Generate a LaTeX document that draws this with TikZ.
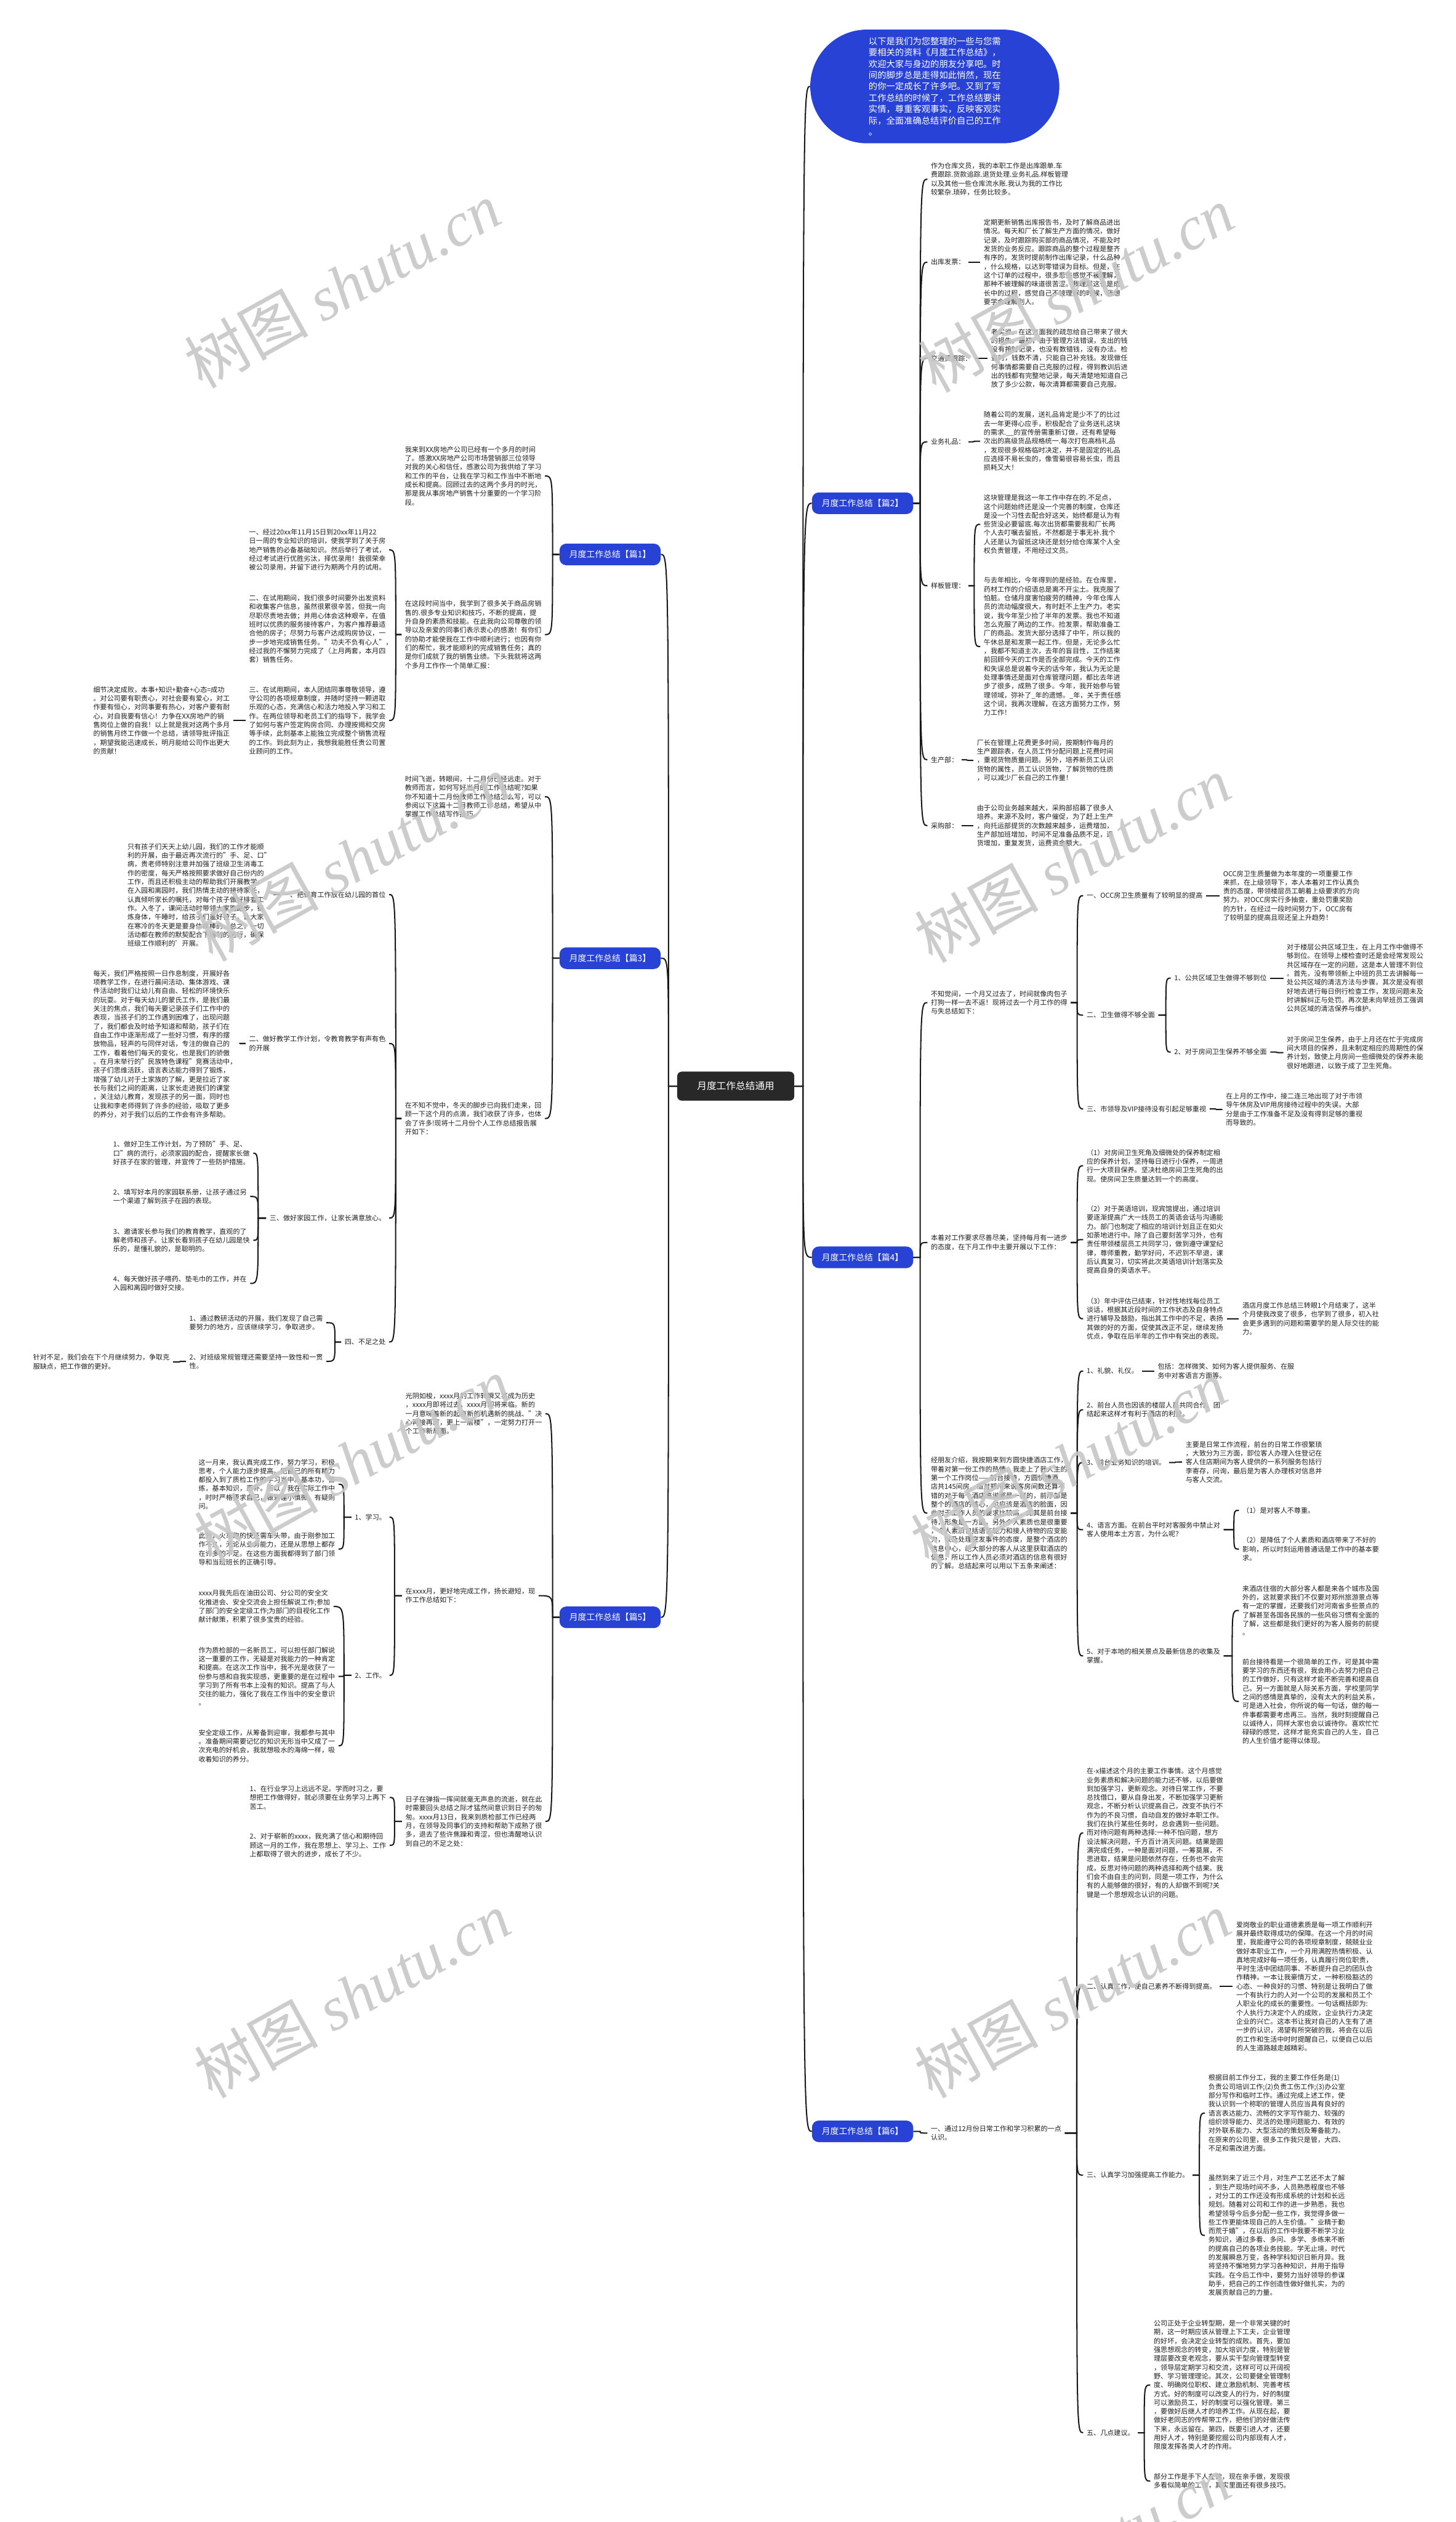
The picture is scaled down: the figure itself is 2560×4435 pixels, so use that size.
\documentclass[tikz,border=0pt]{standalone}
\usepackage{fontspec}
\setmainfont{Noto Sans CJK SC}
\newfontfamily\wmserif{Liberation Serif}
\definecolor{mmblue}{RGB}{40,66,214}
\definecolor{mmdark}{RGB}{40,40,40}
\definecolor{mmline}{RGB}{25,25,25}
\definecolor{mmtext}{RGB}{30,30,30}
\newcommand\mmR[3]{\path (#1.east) ++(#2,0) coordinate (mmj);\draw[ln] (#1.east) -- (mmj) .. controls (mmj |- #3.west) .. (#3.west);}
\newcommand\mmL[3]{\path (#1.west) ++(-#2,0) coordinate (mmj);\draw[ln] (#1.west) -- (mmj) .. controls (mmj |- #3.east) .. (#3.east);}
\tikzset{
 ln/.style={draw=mmline, line width=2.2pt},
 txt/.style={font=\fontsize{12}{15.5}\selectfont, text=mmtext, align=left, inner xsep=6pt, inner ysep=2pt, anchor=west},
 rootbox/.style={fill=mmdark, rounded corners=8pt, minimum width=206pt, minimum height=51pt, text=white, font=\fontsize{17}{17}\selectfont},
 pian/.style={fill=mmblue, rounded corners=12pt, minimum width=178pt, minimum height=38pt, text=white, font=\fontsize{15}{15}\selectfont, inner sep=0pt},
 bubble/.style={fill=mmblue, rounded corners=100pt, minimum width=438pt, minimum height=200pt, text=white, align=left, font=\fontsize{15.5}{20}\selectfont},
 wm/.style={font=\fontsize{109}{109}\selectfont, text=black!22, opacity=0.9, rotate=29, anchor=south west, inner sep=0pt},
}
\begin{document}
\begin{tikzpicture}[x=1pt,y=-1pt]
\useasboundingbox[fill=white] (0,0) rectangle (2560,4435);
% ---------- main nodes
\node[rootbox] (root) at (1294,1910) {月度工作总结通用};
\node[bubble] (intro) at (1644,152) {以下是我们为您整理的一些与您需\\要相关的资料《月度工作总结》，\\欢迎大家与身边的朋友分享吧。时\\间的脚步总是走得如此悄然，现在\\的你一定成长了许多吧。又到了写\\工作总结的时候了，工作总结要讲\\实情，尊重客观事实，反映客观实\\际，全面准确总结评价自己的工作\\。};
\node[pian] (p2) at (1517,885) {月度工作总结【篇2】};
\node[pian] (p4) at (1517,2211) {月度工作总结【篇4】};
\node[pian] (p6) at (1517,3748) {月度工作总结【篇6】};
\node[pian] (p1) at (1073,975) {月度工作总结【篇1】};
\node[pian] (p3) at (1073,1685) {月度工作总结【篇3】};
\node[pian] (p5) at (1073,2844) {月度工作总结【篇5】};
\mmR{root}{15}{intro}\mmR{root}{15}{p2}\mmR{root}{15}{p4}\mmR{root}{15}{p6}
\mmL{root}{15}{p1}\mmL{root}{15}{p3}\mmL{root}{15}{p5}
% ---------- 篇2
\node[txt] (b2a) at (1631,315) {作为仓库文员，我的本职工作是出库跟单.车\\费跟踪.货款追踪.退货处理.业务礼品.样板管理\\以及其他一些仓库流水账.我认为我的工作比\\较繁杂.琐碎，任务比较多。};
\node[txt] (b2bl) at (1631,461) {出库发票：};
\node[txt] (b2b) at (1724,461) {定期更新销售出库报告书，及时了解商品进出\\情况。每天和厂长了解生产方面的情况，做好\\记录，及时跟踪购买部的商品情况，不能及时\\发货的业务反应。跟踪商品的整个过程是整齐\\有序的，发货时提前制作出库记录，什么品种\\，什么规格，以达到零错误为目标。但是，在\\这个订单的过程中，很多悲伤感觉不被理解，\\那种不被理解的味道很苦涩。我理解这也是成\\长中的过程，感觉自己不被理解的时候，我想\\要学会理解别人。};
\node[txt] (b2cl) at (1631,630) {交通费跟踪：};
\node[txt] (b2c) at (1737,630) {老实说，在这方面我的疏忽给自己带来了很大\\的损失。最初，由于管理方法错误，支出的钱\\没有按时记录，也没有数错钱，没有办法。检\\查时，钱数不清，只能自己补充钱。发现做任\\何事情都需要自己克服的过程，得到教训后进\\出的钱都有完整地记录，每天清楚地知道自己\\放了多少公款，每次清算都需要自己克服。};
\node[txt] (b2dl) at (1631,777) {业务礼品：};
\node[txt] (b2d) at (1724,776) {随着公司的发展，送礼品肯定是少不了的比过\\去一年更得心应手，积极配合了业务送礼这块\\的需求.\_\_的宣传册需重新订做，还有希望每\\次出的高级货品规格统一.每次打包高档礼品\\，发现很多规格临时决定，并不是固定的礼品\\应选择不易长虫的，像雪菊很容易长虫，而且\\损耗又大！};
\node[txt] (b2el) at (1631,1030) {样板管理：};
\node[txt] (b2e1) at (1724,922) {这块管理是我这一年工作中存在的.不足点，\\这个问题始终还是没一个完善的制度，仓库还\\是没一个习性去配合好这关，始终都是认为有\\些货没必要留底.每次出货都需要我和厂长两\\个人去叮嘱去留抵，不然都是于事无补.我个\\人还是认为留抵这块还是划分给仓库某个人全\\权负责管理，不用经过文员。};
\node[txt] (b2e2) at (1724,1137) {与去年相比，今年得到的是经验。在仓库里，\\药材工作的介绍语总是离不开尘土。我克服了\\怕脏。仓储月度害怕疲劳的精神，今年仓库人\\员的流动幅度很大，有时赶不上生产力。老实\\说，我今年至少捡了半年的发票。我也不知道\\怎么克服了两边的工作。捡发票，帮助准备工\\厂的商品。发货大部分选择了中午，所以我的\\午休总是和发票一起工作。但是，无论多么忙\\，我都不知道主次，去年的盲目性，工作结束\\前回顾今天的工作是否全部完成。今天的工作\\和失误总是说着今天的话今年，我认为无论是\\处理事情还是面对仓库管理问题，都比去年进\\步了很多，成熟了很多。今年，我开始参与管\\理领域，弥补了\_年的遗憾。\_年，关于责任感\\这个词，我再次理解，在这方面努力工作，努\\力工作！};
\node[txt] (b2fl) at (1631,1336) {生产部：};
\node[txt] (b2f) at (1712,1337) {厂长在管理上花费更多时间，按期制作每月的\\生产跟踪表，在人员工作分配问题上花费时间\\，重视货物质量问题。另外，培养新员工认识\\货物的属性，员工认识货物，了解货物的性质\\，可以减少厂长自己的工作量！};
\node[txt] (b2gl) at (1631,1452) {采购部：};
\node[txt] (b2g) at (1712,1452) {由于公司业务越来越大，采购部招募了很多人\\培养。来源不及时，客户催促，为了赶上生产\\，向托运部提货的次数越来越多，运费增加，\\生产部加班增加，时间不足准备品质不足，退\\货增加，重复发货，运费资金额大。};
\mmR{p2}{12}{b2a}\mmR{p2}{12}{b2bl}\mmR{p2}{12}{b2cl}\mmR{p2}{12}{b2dl}\mmR{p2}{12}{b2el}\mmR{p2}{12}{b2fl}\mmR{p2}{12}{b2gl}
\mmR{b2bl}{8}{b2b}\mmR{b2cl}{8}{b2c}\mmR{b2dl}{8}{b2d}\mmR{b2el}{10}{b2e1}\mmR{b2el}{10}{b2e2}\mmR{b2fl}{8}{b2f}\mmR{b2gl}{8}{b2g}
% ---------- 篇1
\node[txt] (a1) at (706,837) {我来到XX房地产公司已经有一个多月的时间\\了。感激XX房地产公司市场营销部三位领导\\对我的关心和信任，感激公司为我供给了学习\\和工作的平台，让我在学习和工作当中不断地\\成长和提高。回顾过去的这两个多月的时光，\\那是我从事房地产销售十分重要的一个学习阶\\段。};
\node[txt] (a2) at (706,1116) {在这段时间当中，我学到了很多关于商品房销\\售的.很多专业知识和技巧，不断的提高，提\\升自身的素质和技能。在此我向公司尊敬的领\\导以及亲爱的同事们表示衷心的感激！有你们\\的协助才能使我在工作中顺利进行；也因有你\\们的帮忙，我才能顺利的完成销售任务；真的\\是你们成就了我的销售业绩。下头我就将这两\\个多月工作作一个简单汇报：};
\node[txt] (a21) at (432,967) {一、经过20xx年11月15日到20xx年11月22\\日一周的专业知识的培训，使我学到了关于房\\地产销售的必备基础知识。然后举行了考试，\\经过考试进行优胜劣汰，择优录用！我很荣幸\\被公司录用，并留下进行为期两个月的试用。};
\node[txt] (a22) at (432,1106) {二、在试用期间，我们很多时间要外出发资料\\和收集客户信息，虽然很累很辛苦，但我一向\\尽职尽责地去做；并用心体会这种艰辛，在值\\班时以优质的服务接待客户，为客户推荐最适\\合他的房子；尽努力与客户达成购房协议，一\\步一步地完成销售任务。"功夫不负有心人"，\\经过我的不懈努力完成了（上月两套，本月四\\套）销售任务。};
\node[txt] (a23) at (432,1267) {三、在试用期间，本人团结同事尊敬领导，遵\\守公司的各项规章制度，并随时坚持一颗进取\\乐观的心态，充满信心和活力地投入学习和工\\作。在两位领导和老员工们的指导下，我学会\\了如何与客户签定购房合同、办理按揭和交房\\等手续，此刻基本上能独立完成整个销售流程\\的工作。到此刻为止，我想我能胜任贵公司置\\业顾问的工作。};
\node[txt] (a24) at (158,1267) {细节决定成败，本事+知识+勤奋+心态=成功\\。对公司要有职责心，对社会要有爱心，对工\\作要有恒心，对同事要有热心，对客户要有耐\\心，对自我要有信心！力争在XX房地产的销\\售岗位上做的自我！以上就是我对这两个多月\\的销售月终工作做一个总结，请领导批评指正\\，期望我能迅速成长，明月能给公司作出更大\\的贡献！};
\mmL{p1}{12}{a1}\mmL{p1}{12}{a2}
\mmL{a2}{10}{a21}\mmL{a2}{10}{a22}\mmL{a2}{10}{a23}\mmL{a23}{10}{a24}
% ---------- 篇3
\node[txt] (c1) at (706,1401) {时间飞逝，转眼间，十二月份已经远走。对于\\教师而言，如何写好当月的工作总结呢?如果\\你不知道十二月份教师工作总结怎么写，可以\\参阅以下这篇十二月教师工作总结，希望从中\\掌握工作总结写作技巧。};
\node[txt] (c2) at (706,1967) {在不知不觉中，冬天的脚步已向我们走来，回\\顾一下这个月的点滴，我们收获了许多，也体\\会了许多!现将十二月份个人工作总结报告展\\开如下：};
\node[txt] (c21) at (492,1573) {一、把保育工作放在幼儿园的首位};
\node[txt] (c21t) at (218,1574) {只有孩子们天天上幼儿园，我们的工作才能顺\\利的开展，由于最近再次流行的"手、足、口"\\病，贵老师特别注意并加强了班级卫生消毒工\\作的密度，每天严格按照要求做好自己份内的\\工作，而且还积极主动的帮助我们开展教学。\\在入园和离园时，我们热情主动的接待家长，\\认真倾听家长的嘱托，对每个孩子做好排查工\\作。入冬了，课间活动时带领大家跑跑步，锻\\炼身体，午睡时，给孩子们盖好被子，让大家\\在寒冷的冬天更是要身体棒棒的，总之，一切\\活动都在教师的默契配合下顺利的进行，确保\\班级工作顺利的'开展。};
\node[txt] (c22) at (432,1835) {二、做好教学工作计划，令教育教学有声有色\\的开展};
\node[txt] (c22t) at (158,1836) {每天，我们严格按照一日作息制度，开展好各\\项教学工作，在进行晨间活动、集体游戏、课\\件活动时我们让幼儿有自由、轻松的环境快乐\\的玩耍。对于每天幼儿的蒙氏工作，是我们最\\关注的焦点，我们每天要记录孩子们工作中的\\表现，当孩子们的工作遇到困难了，出现问题\\了，我们都会及时给予知道和帮助，孩子们在\\自由工作中逐渐形成了一些好习惯，有序的摆\\放物品，轻声的与同伴对话，专注的做自己的\\工作，看着他们每天的变化，也是我们的骄傲\\。在月末举行的"民族特色课程"竞赛活动中，\\孩子们思维活跃，语言表达能力得到了锻炼，\\增强了幼儿对于土家族的了解，更是拉近了家\\长与我们之间的距离，让家长走进我们的课堂\\，关注幼儿教育，发现孩子的另一面，同时也\\让我和李老师得到了许多的经验，吸取了更多\\的养分，对于我们以后的工作会有许多帮助。};
\node[txt] (c23) at (468,2142) {三、做好家园工作，让家长满意放心。};
\node[txt] (c231) at (193,2028) {1、做好卫生工作计划，为了预防"手、足、\\口"病的流行，必须家园的配合，提醒家长做\\好孩子在家的管理，并宣传了一些防护措施。};
\node[txt] (c232) at (193,2104) {2、填写好本月的家园联系册，让孩子通过另\\一个渠道了解到孩子在园的表现。};
\node[txt] (c233) at (193,2181) {3、邀请家长参与我们的教育教学，直观的了\\解老师和孩子。让家长看到孩子在幼儿园是快\\乐的，是懂礼貌的，是聪明的。};
\node[txt] (c234) at (193,2257) {4、每天做好孩子喂药、垫毛巾的工作，并在\\入园和离园时做好交接。};
\node[txt] (c24) at (600,2360) {四、不足之处};
\node[txt] (c241) at (327,2326) {1、通过教研活动的开展，我们发现了自己需\\要努力的地方，应该继续学习，争取进步。};
\node[txt] (c242) at (327,2394) {2、对班级常规管理还需要坚持一致性和一贯\\性。};
\node[txt] (c243) at (52,2395) {针对不足，我们会在下个月继续努力，争取克\\服缺点，把工作做的更好。};
\mmL{p3}{12}{c1}\mmL{p3}{12}{c2}
\mmL{c2}{10}{c21}\mmL{c2}{10}{c22}\mmL{c2}{10}{c23}\mmL{c2}{10}{c24}
\mmL{c21}{10}{c21t}\mmL{c22}{10}{c22t}
\mmL{c23}{14}{c231}\mmL{c23}{14}{c232}\mmL{c23}{14}{c233}\mmL{c23}{14}{c234}
\mmL{c24}{11}{c241}\mmL{c24}{11}{c242}\mmL{c242}{10}{c243}
% ---------- 篇5
\node[txt] (e1) at (707,2486) {光阴如梭，xxxx月的工作转瞬又将成为历史\\，xxxx月即将过去，xxxx月即将来临。新的\\一月意味着新的起点新的机遇新的挑战、"决\\心再接再厉，更上一层楼"，一定努力打开一\\个工作新局面。};
\node[txt] (e2) at (707,2806) {在xxxx月，更好地完成工作，扬长避短，现\\作工作总结如下：};
\node[txt] (e3) at (707,3203) {日子在弹指一挥间就毫无声息的流逝，就在此\\时需要回头总结之际才猛然间意识到日子的匆\\匆。xxxx月13日，我来到质检部工作已经两\\月，在领导及同事们的支持和帮助下成熟了很\\多，退去了些许焦躁和青涩，但也清醒地认识\\到自己的不足之处：};
\node[txt] (e21) at (618,2668) {1、学习。};
\node[txt] (e22) at (618,2946) {2、工作。};
\node[txt] (e211) at (343,2610) {这一月来，我认真完成工作，努力学习，积极\\思考，个人能力逐步提高。把自己的所有精力\\都投入到了质检工作的学习当中。基本功，苦\\练，基本知识，恶补。所以，我在实际工作中\\，时时严格要求自己，做到谨小慎微，有疑则\\问。};
\node[txt] (e212) at (343,2724) {此外，火车跑的快还需车头带，由于刚参加工\\作不久，无论从业务能力，还是从思想上都存\\在许多的不足。在这些方面我都得到了部门领\\导和当班班长的正确引导。};
\node[txt] (e221) at (343,2825) {xxxx月我先后在油田公司、分公司的安全文\\化推进会、安全交流会上担任解说工作;参加\\了部门的安全定级工作;为部门的目视化工作\\献计献策，积累了很多宝贵的经验。};
\node[txt] (e222) at (343,2948) {作为质检部的一名新员工，可以担任部门解说\\这一重要的工作，无疑是对我能力的一种肯定\\和提高。在这次工作当中，我不光是收获了一\\份参与感和自我实现感，更重要的是在过程中\\学习到了所有书本上没有的知识。提高了与人\\交往的能力，强化了我在工作当中的安全意识\\。};
\node[txt] (e223) at (343,3070) {安全定级工作，从筹备到迎审，我都参与其中\\。准备期间需要记忆的知识无形当中又成了一\\次充电的好机会，我就想吸水的海绵一样，吸\\收着知识的养分。};
\node[txt] (e31) at (433,3161) {1、在行业学习上远远不足。学而时习之，要\\想把工作做得好，就必须要在业务学习上再下\\苦工。};
\node[txt] (e32) at (433,3245) {2、对于崭新的xxxx，我充满了信心和期待回\\顾这一月的工作，我在思想上、学习上、工作\\上都取得了很大的进步，成长了不少。};
\mmL{p5}{12}{e1}\mmL{p5}{12}{e2}\mmL{p5}{12}{e3}
\mmL{e2}{13}{e21}\mmL{e2}{13}{e22}
\mmL{e21}{13}{e211}\mmL{e21}{13}{e212}
\mmL{e22}{13}{e221}\mmL{e22}{13}{e222}\mmL{e22}{13}{e223}
\mmL{e3}{13}{e31}\mmL{e3}{13}{e32}
% ---------- 篇4
\node[txt] (d1) at (1631,1763) {不知觉间，一个月又过去了，时间就像肉包子\\打狗一样一去不返！现将过去一个月工作的得\\与失总结如下：};
\node[txt] (d11) at (1905,1575) {一、OCC房卫生质量有了较明显的提高};
\node[txt] (d11t) at (2145,1575) {OCC房卫生质量做为本年度的一项重要工作\\来抓，在上级领导下，本人本着对工作认真负\\责的态度，带领楼层员工朝着上级要求的方向\\努力。对OCC房实行多抽查，重处罚重奖励\\的方针，在经过一段时间努力下，OCC房有\\了较明显的提高且现还呈上升趋势！};
\node[txt] (d12) at (1905,1785) {二、卫生做得不够全面};
\node[txt] (d121) at (2059,1720) {1、公共区域卫生做得不够到位};
\node[txt] (d121t) at (2257,1720) {对于楼层公共区域卫生，在上月工作中做得不\\够到位。在领导上楼检查时还是会经常发现公\\共区域存在一定的问题，这是本人管理不到位\\。首先，没有带领新上中班的员工去讲解每一\\处公共区域的清洁方法与步骤。其次是没有很\\好地去进行每日例行检查工作，发现问题未及\\时讲解纠正与处罚。再次是未向早班员工强调\\公共区域的清洁保养与维护。};
\node[txt] (d122) at (2059,1850) {2、对于房间卫生保养不够全面};
\node[txt] (d122t) at (2257,1851) {对于房间卫生保养，由于上月还在忙于完成房\\间大项目的保养，且未制定相应的周期性的保\\养计划，致使上月房间一些细微处的保养未能\\很好地跟进，以致于成了卫生死角。};
\node[txt] (d13) at (1905,1950) {三、市领导及VIP接待没有引起足够重视};
\node[txt] (d13t) at (2150,1951) {在上月的工作中，接二连三地出现了对于市领\\导午休房及VIP用房接待过程中的失误。大部\\分是由于工作准备不足及没有得到足够的重视\\而导致的。};
\node[txt] (d2) at (1631,2185) {本着对工作要求尽善尽美，坚持每月有一进步\\的态度，在下月工作中主要开展以下工作：};
\node[txt] (d21) at (1905,2050) {（1）对房间卫生死角及细微处的保养制定相\\应的保养计划，坚持每日进行小保养，一周进\\行一大项目保养。坚决杜绝房间卫生死角的出\\现。使房间卫生质量达到一个的高度。};
\node[txt] (d22) at (1905,2180) {（2）对于英语培训，现宾馆提出，通过培训\\要逐渐提高广大一线员工的英语会话与沟通能\\力。部门也制定了相应的培训计划且正在如火\\如荼地进行中。除了自己要刻苦学习外，也有\\责任带领楼层员工共同学习，做到遵守课堂纪\\律，尊师重教，勤学好问，不迟到不早退，课\\后认真复习，切实将此次英语培训计划落实及\\提高自身的英语水平。};
\node[txt] (d23) at (1905,2319) {（3）年中评估已结束，针对性地找每位员工\\谈话，根据其近段时间的工作状态及自身特点\\进行辅导及鼓励，指出其工作中的不足，表扬\\其做的好的方面，促使其改正不足，继续发扬\\优点，争取在后半年的工作中有突出的表现。};
\node[txt] (d23t) at (2179,2319) {酒店月度工作总结三转眼1个月结束了，这半\\个月使我改变了很多，也学到了很多，初入社\\会更多遇到的问题和需要学的是人际交往的能\\力。};
\node[txt] (d3) at (1631,2661) {经朋友介绍，我按期来到方圆快捷酒店工作，\\带着对第一份工作的热情，我走上了我人生的\\第一个工作岗位——前台接待，方圆快捷酒\\店共145间房，相对郑州来说客房间数还算不\\错的对于每个酒店来说都是一样的，前厅部是\\整个的酒店的核心，也应该是酒店的脸面，因\\此对于工作人员的要求比较高，尤其是前台接\\待，形象是一方面，另外个人素质也是很重要\\，个人素质包括语言能力和接人待物的应变能\\力，以及处理突发事件的态度，是整个酒店的\\信息中心，绝大部分的客人从这里获取酒店的\\信息，所以工作人员必须对酒店的信息有很好\\的了解。总结起来可以用以下五条来阐述：};
\node[txt] (d31) at (1905,2411) {1、礼貌、礼仪。};
\node[txt] (d31t) at (2030,2411) {包括：怎样微笑、如何为客人提供服务、在服\\务中对客语言方面等。};
\node[txt] (d32) at (1905,2479) {2、前台人员也因该的楼层人员共同合作、团\\结起来这样才有利于酒店的利益。};
\node[txt] (d33) at (1905,2572) {3、前台业务知识的培训。};
\node[txt] (d33t) at (2079,2571) {主要是日常工作流程，前台的日常工作很繁琐\\，大致分为三方面，即位客人办理入住登记在\\客人住店期间为客人提供的一系列服务包括行\\李寄存，问询，最后是为客人办理核对信息并\\与客人交流。};
\node[txt] (d34) at (1905,2690) {4、语言方面。在前台平时对客服务中禁止对\\客人使用本土方言，为什么呢？};
\node[txt] (d341) at (2179,2656) {（1）是对客人不尊重。};
\node[txt] (d342) at (2179,2724) {（2）是降低了个人素质和酒店带来了不好的\\影响，所以时刻运用普通话是工作中的基本要\\求。};
\node[txt] (d35) at (1905,2912) {5、对于本地的相关景点及最新信息的收集及\\掌握。};
\node[txt] (d351) at (2179,2832) {来酒店住宿的大部分客人都是来各个城市及国\\外的，这就要求我们不仅要对郑州旅游景点等\\有一定的掌握，还要我们对河南省多些景点的\\了解甚至各国各民族的一些风俗习惯有全面的\\了解，这些都是我们更好的为客人服务的前提\\。};
\node[txt] (d352) at (2179,2992) {前台接待看是一个很简单的工作，可是其中需\\要学习的东西还有很，我会用心去努力把自己\\的工作做好，只有这样才能不断完善和提高自\\己。另一方面就是人际关系方面，学校里同学\\之间的感情是真挚的，没有太大的利益关系，\\可是进入社会，你所说的每一句话，做的每一\\件事都需要考虑再三。当然，我时刻提醒自己\\以诚待人，同样大家也会以诚待你。喜欢忙忙\\碌碌的感觉，这样才能充实自己的人生，自己\\的人生价值才能得以体现。};
\mmR{p4}{12}{d1}\mmR{p4}{12}{d2}\mmR{p4}{12}{d3}
\mmR{d1}{11}{d11}\mmR{d1}{11}{d12}\mmR{d1}{11}{d13}
\mmR{d11}{10}{d11t}\mmR{d12}{13}{d121}\mmR{d12}{13}{d122}\mmR{d121}{10}{d121t}\mmR{d122}{10}{d122t}\mmR{d13}{10}{d13t}
\mmR{d2}{11}{d21}\mmR{d2}{11}{d22}\mmR{d2}{11}{d23}\mmR{d23}{10}{d23t}
\mmR{d3}{11}{d31}\mmR{d3}{11}{d32}\mmR{d3}{11}{d33}\mmR{d3}{11}{d34}\mmR{d3}{11}{d35}
\mmR{d31}{10}{d31t}\mmR{d33}{10}{d33t}\mmR{d34}{18}{d341}\mmR{d34}{18}{d342}\mmR{d35}{15}{d351}\mmR{d35}{15}{d352}
% ---------- 篇6
\node[txt] (f1) at (1631,3751) {一、通过12月份日常工作和学习积累的一点\\认识。};
\node[txt] (f11) at (1905,3223) {在-x描述这个月的主要工作事情。这个月感觉\\业务素质和解决问题的能力还不够，以后要做\\到加强学习，更新观念。对待日常工作，不要\\总找借口，要从自身出发，不断加强学习更新\\观念，不断分析认识提高自己，改变不执行不\\作为的不良习惯，自动自发的做好本职工作。\\我们在执行某些任务时，总会遇到一些问题。\\而对待问题有两种选择:一种不怕问题，想方\\设法解决问题，千方百计消灭问题。结果是圆\\满完成任务，一种是面对问题，一筹莫展，不\\思进取，结果是问题依然存在，任务也不会完\\成，反思对待问题的两种选择和两个结果。我\\们会不由自主的问到，同是一项工作，为什么\\有的人能够做的很好，有的人却做不到呢?关\\键是一个思想观念认识的问题。};
\node[txt] (f12) at (1905,3493) {二、认真工作，使自己素养不断得到提高。};
\node[txt] (f12t) at (2168,3493) {爱岗敬业的职业道德素质是每一项工作顺利开\\展并最终取得成功的保障。在这一个月的时间\\里，我能遵守公司的各项规章制度，兢兢业业\\做好本职业工作，一个月用满腔热情积极、认\\真地完成好每一项任务，认真履行岗位职责，\\平时生活中团结同事、不断提升自己的团队合\\作精神。一本让我豪情万丈，一种积极豁达的\\心态、一种良好的习惯、特别是让我明白了做\\一个有执行力的人对一个公司的发展和员工个\\人职业化的成长的重要性。一句话概括即为:\\个人执行力决定个人的成败，企业执行力决定\\企业的兴亡。这本书让我对自己的人生有了进\\一步的认识，渴望有所突破的我，将会在以后\\的工作和生活中时时提醒自己，以便自己以后\\的人生道路越走越精彩。};
\node[txt] (f13) at (1905,3825) {三、认真学习加强提高工作能力。};
\node[txt] (f131) at (2119,3716) {根据目前工作分工，我的主要工作任务是(1)\\负责公司培训工作;(2)负责工伤工作;(3)办公室\\部分写作和临时工作。通过完成上述工作，使\\我认识到一个称职的管理人员应当具有良好的\\语言表达能力、流畅的文字写作能力、较强的\\组织领导能力、灵活的处理问题能力、有效的\\对外联系能力、大型活动的策划及筹备能力。\\在原来的公司里，很多工作我只是管，大四、\\不足和需改进方面。};
\node[txt] (f132) at (2119,3931) {虽然到来了近三个月，对生产工艺还不太了解\\，到生产现场时间不多，人员熟悉程度也不够\\，对分工的工作还没有形成系统的计划和长远\\规划。随着对公司和工作的进一步熟悉，我也\\希望领导今后多分配一些工作，我觉得多做一\\些工作更能体现自己的人生价值。"业精于勤\\而荒于嬉"，在以后的工作中我要不断学习业\\务知识，通过多看、多问、多学、多练来不断\\的提高自己的各项业务技能。学无止境，时代\\的发展瞬息万变，各种学科知识日新月异。我\\将坚持不懈地努力学习各种知识，并用于指导\\实践。在今后工作中，要努力当好领导的参谋\\助手，把自己的工作创造性做好做扎实，为的\\发展贡献自己的力量。};
\node[txt] (f15) at (1905,4278) {五、几点建议。};
\node[txt] (f151) at (2023,4194) {公司正处于企业转型期，是一个非常关键的时\\期，这一时期应该从管理上下工夫，企业管理\\的好坏，会决定企业转型的成败。首先，要加\\强思想观念的转变，加大培训力度，特别是管\\理层要改变老观念，要从实干型向管理型转变\\，领导层定期学习和交流，这样可可以开阔视\\野、学习管理理论。其次，公司要健全管理制\\度、明确岗位职权、建立激励机制、完善考核\\方式。好的制度可以改变人的行为，好的制度\\可以激励员工，好的制度可以强化管理。第三\\，要做好后继人才的培养工作。从现在起，要\\做好老同志的传帮带工作，把他们的好做法传\\下来，永远留在。第四，既要引进人才，还要\\用好人才，特别是要挖掘公司内部现有人才，\\限度发挥各类人才的作用。};
\node[txt] (f152) at (2023,4363) {部分工作是手下人在做，现在亲手做，发现很\\多看似简单的工作，其实里面还有很多技巧。};
\mmR{p6}{12}{f1}
\mmR{f1}{21}{f11}\mmR{f1}{21}{f12}\mmR{f1}{21}{f13}\mmR{f1}{21}{f15}
\mmR{f12}{10}{f12t}\mmR{f13}{12}{f131}\mmR{f13}{12}{f132}\mmR{f15}{11}{f151}\mmR{f15}{11}{f152}
% ---------- watermarks
\foreach \wx/\wy [count=\wi] in {1650/700,1644/1703,1638/2764,1644/3700,1644/4690,360/693,378/1701,377/2760,377/3700}
  \node[wm] (wm\wi) at (\wx,\wy) {树图 {\wmserif\itshape shutu.cn}};
\end{tikzpicture}
\end{document}
